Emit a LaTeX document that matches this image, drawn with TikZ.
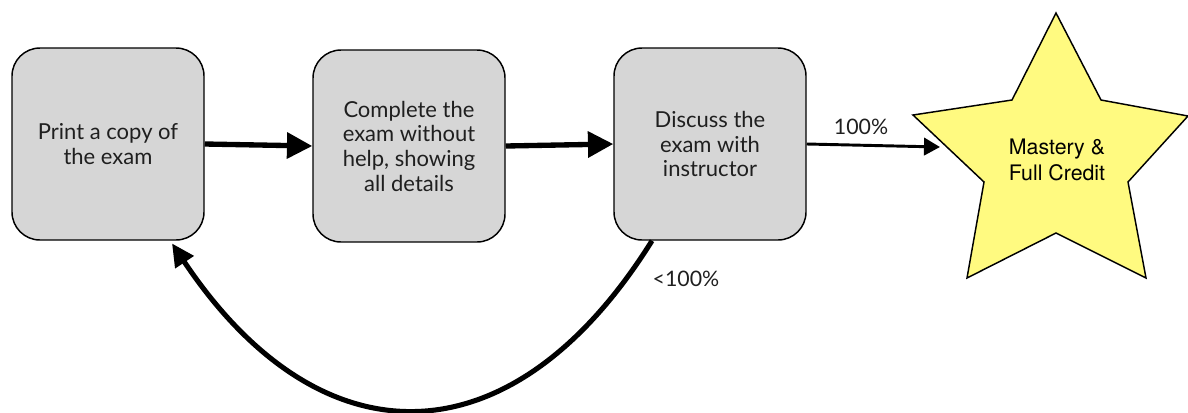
\documentclass[tikz,border=0pt]{standalone}
\usepackage{fontspec}
\setmainfont{Lato}
\newfontfamily\helv{TeX Gyre Heros}
\usetikzlibrary{arrows.meta}
\definecolor{boxgray}{RGB}{214,214,214}
\definecolor{staryellow}{RGB}{255,250,128}
\tikzset{
  stepbox/.style={draw=black, line width=1.1pt, fill=boxgray, rounded corners=21pt,
    minimum width=144pt, minimum height=144pt, align=center, text=black!88,
    font=\fontsize{16.5}{18.5}\selectfont, inner sep=0pt},
  flow/.style={line width=4pt, -{Triangle[length=19pt,width=19pt]}},
  thinflow/.style={line width=2.2pt, -{Triangle[length=12pt,width=13pt]}},
  loopflow/.style={line width=3.8pt, -{Triangle[length=17pt,width=16pt]}},
  lbl/.style={font=\fontsize{16}{18}\selectfont, text=black!88, inner sep=0pt}
}
\begin{document}
\begin{tikzpicture}[x=0.75pt, y=-0.75pt]
\useasboundingbox (0,0) rectangle (1188,412);
\node[stepbox] (b1) at (108,144) {Print a copy of\\the exam};
\node[stepbox] (b2) at (409,146) {Complete the\\exam without\\help, showing\\all details};
\node[stepbox] (b3) at (710,144) {Discuss the\\exam with\\instructor};
% star
\draw[line width=1.1pt, fill=staryellow, line join=miter]
  (1056,13) -- (1101,100) -- (1188,116) -- (1128,182) -- (1146,278)
  -- (1056,233) -- (967,278) -- (984,182) -- (913,115) -- (1012,100) -- cycle;
\node[align=center, font=\helv\fontsize{16}{19}\selectfont, inner sep=0pt] (star) at (1057,160) {Mastery \&\\Full Credit};
\coordinate (starL) at (940,147);
\draw[flow] (b1.east) -- (b2.west);
\draw[flow] (b2.east) -- (b3.west);
\draw[thinflow] (b3.east) -- (starL);
\node[lbl] (l100) at (861,127) {100\%};
\draw[loopflow] ([xshift=-43.5pt]b3.south) .. controls (512,465) and (320,465) .. ([xshift=48pt,yshift=-2pt]b1.south);
\node[lbl] (llt) at (686,279) {<100\%};
\end{tikzpicture}
\end{document}
